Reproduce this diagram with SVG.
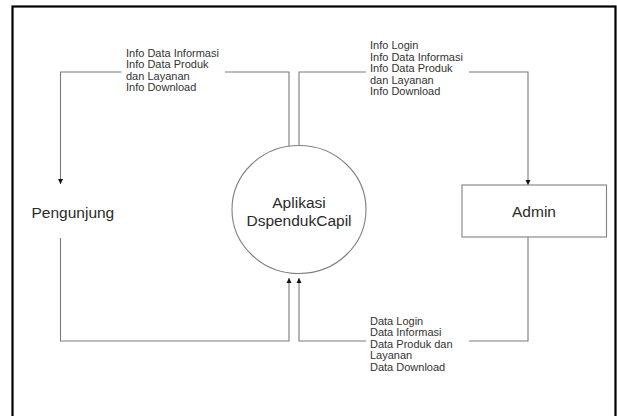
<svg xmlns="http://www.w3.org/2000/svg" width="617" height="416" viewBox="0 0 617 416">
<style>
.frame{fill:none;stroke:#000;stroke-width:2.2}
.line{fill:none;stroke:#7a7a7a;stroke-width:1.1}
.shape{fill:#fff;stroke:#808080;stroke-width:1.1}
.node{font-family:"Liberation Sans",Arial,sans-serif;font-size:15.5px;fill:#2a2a2a}
.lbl{font-family:"Liberation Sans",Arial,sans-serif;font-size:11px;fill:#333}
</style>
<defs>
<marker id="arr" viewBox="0 0 10 10" refX="10" refY="5" markerWidth="5" markerHeight="10" markerUnits="userSpaceOnUse" orient="auto">
<path d="M0,0 L10,5 L0,10 z" fill="#111"/>
</marker>
</defs>
<rect class="frame" x="12.5" y="6.5" width="603" height="420"/>
<g id="connectors">
<g id="c1">
<polyline class="line" points="289,147 289,72 225,72"/>
<polyline class="line" points="121.5,72 60.5,72 60.5,184" marker-end="url(#arr)"/>
<text class="lbl" x="126" y="56.5">Info Data Informasi</text>
<text class="lbl" x="126" y="68">Info Data Produk</text>
<text class="lbl" x="126" y="79.5">dan Layanan</text>
<text class="lbl" x="126" y="91">Info Download</text>
</g>
<g id="c2">
<polyline class="line" points="299,146 299,72 366,72"/>
<polyline class="line" points="469,72 528,72 528,185" marker-end="url(#arr)"/>
<text class="lbl" x="370" y="49">Info Login</text>
<text class="lbl" x="370" y="60.5">Info Data Informasi</text>
<text class="lbl" x="370" y="72">Info Data Produk</text>
<text class="lbl" x="370" y="83.5">dan Layanan</text>
<text class="lbl" x="370" y="95">Info Download</text>
</g>
<g id="c3">
<polyline class="line" points="60.5,238 60.5,341 289,341 289,278" marker-end="url(#arr)"/>
</g>
<g id="c4">
<polyline class="line" points="528,237 528,341 469,341"/>
<polyline class="line" points="366,341 299,341 299,278" marker-end="url(#arr)"/>
<text class="lbl" x="370" y="324.5">Data Login</text>
<text class="lbl" x="370" y="336">Data Informasi</text>
<text class="lbl" x="370" y="347.5">Data Produk dan</text>
<text class="lbl" x="370" y="359">Layanan</text>
<text class="lbl" x="370" y="370.5">Data Download</text>
</g>
</g>
<g id="pengunjung">
<text class="node" x="31.5" y="217.5">Pengunjung</text>
</g>
<g id="aplikasi">
<ellipse class="shape" cx="299" cy="209.5" rx="67" ry="64"/>
<text class="node" x="299" y="208" text-anchor="middle">Aplikasi</text>
<text class="node" x="299" y="225.5" text-anchor="middle">DspendukCapil</text>
</g>
<g id="admin">
<rect class="shape" x="462" y="185" width="144.5" height="52"/>
<text class="node" x="534" y="217" text-anchor="middle">Admin</text>
</g>
</svg>
